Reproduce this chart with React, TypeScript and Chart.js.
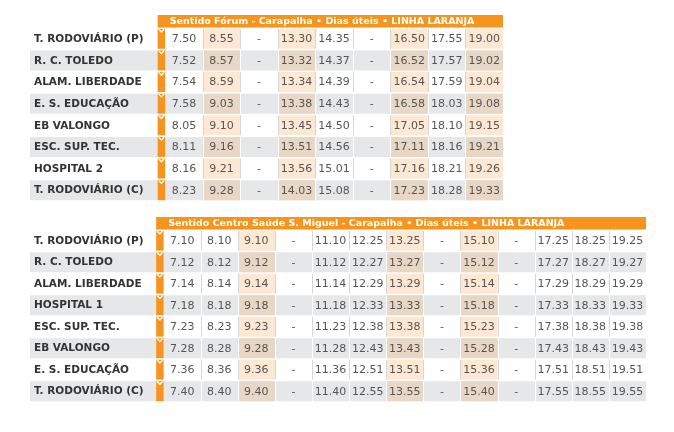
import React, { useEffect, useRef } from "react";
import { Chart, registerables } from "chart.js";
Chart.register(...registerables);

const title1 = "Sentido Fórum - Carapalha • Dias úteis • LINHA LARANJA";
const stops1 = ["T. RODOVIÁRIO (P)", "R. C. TOLEDO", "ALAM. LIBERDADE", "E. S. EDUCAÇÃO", "EB VALONGO", "ESC. SUP. TEC.", "HOSPITAL 2", "T. RODOVIÁRIO (C)"];
const times1 = [
  ["7.50", "8.55", "-", "13.30", "14.35", "-", "16.50", "17.55", "19.00"],
  ["7.52", "8.57", "-", "13.32", "14.37", "-", "16.52", "17.57", "19.02"],
  ["7.54", "8.59", "-", "13.34", "14.39", "-", "16.54", "17.59", "19.04"],
  ["7.58", "9.03", "-", "13.38", "14.43", "-", "16.58", "18.03", "19.08"],
  ["8.05", "9.10", "-", "13.45", "14.50", "-", "17.05", "18.10", "19.15"],
  ["8.11", "9.16", "-", "13.51", "14.56", "-", "17.11", "18.16", "19.21"],
  ["8.16", "9.21", "-", "13.56", "15.01", "-", "17.16", "18.21", "19.26"],
  ["8.23", "9.28", "-", "14.03", "15.08", "-", "17.23", "18.28", "19.33"],
];
const highlight1 = [1, 3, 6, 8];

const title2 = "Sentido Centro Saúde S. Miguel - Carapalha • Dias úteis • LINHA LARANJA";
const stops2 = ["T. RODOVIÁRIO (P)", "R. C. TOLEDO", "ALAM. LIBERDADE", "HOSPITAL 1", "ESC. SUP. TEC.", "EB VALONGO", "E. S. EDUCAÇÃO", "T. RODOVIÁRIO (C)"];
const times2 = [
  ["7.10", "8.10", "9.10", "-", "11.10", "12.25", "13.25", "-", "15.10", "-", "17.25", "18.25", "19.25"],
  ["7.12", "8.12", "9.12", "-", "11.12", "12.27", "13.27", "-", "15.12", "-", "17.27", "18.27", "19.27"],
  ["7.14", "8.14", "9.14", "-", "11.14", "12.29", "13.29", "-", "15.14", "-", "17.29", "18.29", "19.29"],
  ["7.18", "8.18", "9.18", "-", "11.18", "12.33", "13.33", "-", "15.18", "-", "17.33", "18.33", "19.33"],
  ["7.23", "8.23", "9.23", "-", "11.23", "12.38", "13.38", "-", "15.23", "-", "17.38", "18.38", "19.38"],
  ["7.28", "8.28", "9.28", "-", "11.28", "12.43", "13.43", "-", "15.28", "-", "17.43", "18.43", "19.43"],
  ["7.36", "8.36", "9.36", "-", "11.36", "12.51", "13.51", "-", "15.36", "-", "17.51", "18.51", "19.51"],
  ["7.40", "8.40", "9.40", "-", "11.40", "12.55", "13.55", "-", "15.40", "-", "17.55", "18.55", "19.55"],
];
const highlight2 = [2, 6, 8];

const NAME_MIN = -3.6;
const ARROW = -0.2;
const ORANGE = "#f7941d";

function makeConfig(title: string, stops: string[], times: string[][], hl: number[], pad: any) {
  const n = times[0].length;
  const grey = (i: number) => i % 2 === 1;
  const datasets: any[] = [
    {
      data: stops.map((_, i) => (grey(i) ? [NAME_MIN, n] : [NAME_MIN, NAME_MIN])),
      backgroundColor: "#e6e7e8",
      order: 10,
    },
    ...hl.map((c) => ({
      data: stops.map(() => [c, c + 1]),
      backgroundColor: stops.map((_, i) => (grey(i) ? "#e9d7c6" : "#fde8d3")),
      order: 5,
    })),
    { data: stops.map(() => [ARROW, 0]), backgroundColor: ORANGE, order: 1 },
  ];
  const plugin = {
    id: "tbl",
    afterDatasetsDraw(chart: any) {
      const ctx = chart.ctx;
      const x = chart.scales.x;
      const y = chart.scales.y;
      const rowH = y.getPixelForValue(1) - y.getPixelForValue(0);
      const bh = rowH * 0.92;
      ctx.save();
      const hx0 = x.getPixelForValue(ARROW);
      const hx1 = x.getPixelForValue(n);
      const htop = y.getPixelForValue(0) - rowH / 2 - 13;
      ctx.fillStyle = ORANGE;
      ctx.fillRect(hx0, htop, hx1 - hx0, 12.5);
      ctx.fillStyle = "#fff";
      ctx.font = "bold 9.5px 'DejaVu Sans', sans-serif";
      ctx.textBaseline = "middle";
      ctx.textAlign = "left";
      ctx.fillText(title, hx0 + 12, htop + 6.5);
      stops.forEach((s, i) => {
        const cy = y.getPixelForValue(i);
        ctx.strokeStyle = grey(i) ? "#ffffff" : "#d6d6d6";
        ctx.lineWidth = 1;
        for (let c = 1; c < n; c++) {
          const px = Math.round(x.getPixelForValue(c)) + 0.5;
          ctx.beginPath();
          ctx.moveTo(px, cy - bh / 2);
          ctx.lineTo(px, cy + bh / 2);
          ctx.stroke();
        }
        const ax0 = x.getPixelForValue(ARROW);
        const ax1 = x.getPixelForValue(0);
        ctx.strokeStyle = "#fff";
        ctx.lineWidth = 1.3;
        ctx.beginPath();
        ctx.moveTo(ax0 + 1, cy - rowH / 2 + 1);
        ctx.lineTo((ax0 + ax1) / 2, cy - rowH / 2 + 4);
        ctx.lineTo(ax1 - 1, cy - rowH / 2 + 1);
        ctx.stroke();
        ctx.fillStyle = "#333";
        ctx.font = "bold 10.5px 'DejaVu Sans', sans-serif";
        ctx.textAlign = "left";
        ctx.fillText(s, x.getPixelForValue(NAME_MIN) + 4, cy + 0.5);
        ctx.fillStyle = "#555";
        ctx.font = "11px 'DejaVu Sans', sans-serif";
        ctx.textAlign = "center";
        times[i].forEach((t, c) => ctx.fillText(t, x.getPixelForValue(c + 0.5), cy + 0.5));
      });
      ctx.restore();
    },
  };
  return {
    type: "bar",
    data: { labels: stops, datasets },
    plugins: [plugin],
    options: {
      animation: false,
      responsive: false,
      indexAxis: "y",
      layout: { padding: pad },
      datasets: { bar: { grouped: false, barPercentage: 1, categoryPercentage: 0.92 } },
      plugins: { legend: { display: false }, tooltip: { enabled: false } },
      scales: {
        x: { type: "linear", min: NAME_MIN, max: n, display: false },
        y: { type: "category", display: false, offset: true },
      },
    },
  } as any;
}

function Table({ cfg }: { cfg: any }) {
  const ref = useRef<HTMLCanvasElement>(null);
  useEffect(() => {
    const ch = new Chart(ref.current!, cfg);
    return () => ch.destroy();
  }, []);
  return <canvas ref={ref} width={674} height={432} style={{ position: "fixed", left: 0, top: 0, width: 674, height: 432 }} />;
}

export default function App() {
  const c1 = makeConfig(title1, stops1, times1, highlight1, { left: 30, right: 171, top: 28, bottom: 231 });
  const c2 = makeConfig(title2, stops2, times2, highlight2, { left: 30, right: 28, top: 230, bottom: 30 });
  return (
    <div style={{ position: "fixed", left: 0, top: 0, width: 674, height: 432, background: "#fff" }}>
      <Table cfg={c1} />
      <Table cfg={c2} />
    </div>
  );
}
